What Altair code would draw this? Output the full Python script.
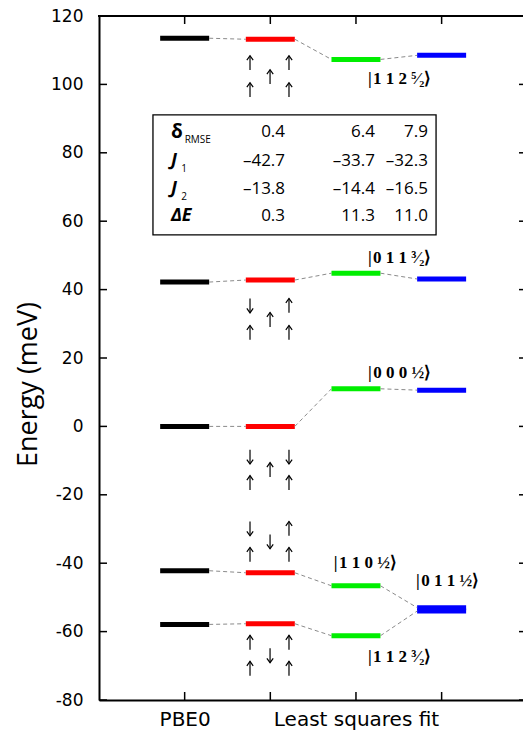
import altair as alt
import pandas as pd

# ---------------- data ----------------
categories = [1, 2, 3, 4]
x_tick_labels = ["PBE0", "", "Least squares fit", ""]
y_ticks = [-80, -60, -40, -20, 0, 20, 40, 60, 80, 100, 120]

pbe0 = [113.5, 42.2, 0.0, -42.2, -57.9]
fit_a = [113.2, 42.8, 0.0, -42.8, -57.7]
fit_b = [107.3, 44.8, 11.0, -46.6, -61.2]
fit_c = [108.5, 43.1, 10.6, -53.0, -54.0]
bar_colors = ["#000000", "#ff0000", "#00ee00", "#0000ff"]

ket_labels = ["|\u200a1 1 2 \u2075\u2044\u2082\u27e9", "|\u200a0 1 1 \u00b3\u2044\u2082\u27e9", "|\u200a0 0 0 \u00bd\u27e9",
              "|\u200a1 1 0 \u00bd\u27e9", "|\u200a0 1 1 \u00bd\u27e9", "|\u200a1 1 2 \u00b3\u2044\u2082\u27e9"]
ket_x = [3.51, 3.51, 3.51, 3.11, 4.07, 3.51]
ket_y = [101.6, 49.2, 15.7, -39.8, -45.1, -67.3]

arrow_cols = [1.763, 1.997, 2.218]
arrow_rows = [[106.3, 102.2, 98.4], [35.3, 31.2, 27.4], [-8.9, -12.7, -16.5],
              [-29.9, -33.7, -37.5], [-63.2, -67.0, -70.8]]
# spin of: left-top, left-bottom, middle, right-top, right-bottom (+1 up, -1 down)
spins = [[1, 1, 1, 1, 1], [-1, 1, 1, 1, 1], [-1, 1, 1, -1, 1],
         [-1, 1, -1, 1, 1], [1, 1, -1, 1, 1]]

table_names = ["\u03b4", "J", "J", "\u0394E"]
table_subs = ["RMSE", "1", "2", ""]
table_col1 = ["0.4", "\u201342.7", "\u201313.8", "0.3"]
table_col2 = ["6.4", "\u201333.7", "\u201314.4", "11.3"]
table_col3 = ["7.9", "\u201332.3", "\u201316.5", "11.0"]
table_row_y = [86.2, 77.6, 69.4, 61.4]
table_col_x = [2.172, 3.222, 3.841]

# ---------------- tables ----------------
HW = 0.286
series = [pbe0, fit_a, fit_b, fit_c]
bars = []
for ci, (c, vals) in enumerate(zip(categories, series)):
    for v in vals:
        bars.append({"x": c - HW, "x2": c + HW, "y": v, "col": bar_colors[ci]})
bars_df = pd.DataFrame(bars)

links = []
for i in range(5):
    links.append({"x": 1 + HW, "x2": 2 - HW, "y": pbe0[i], "y2": fit_a[i]})
    links.append({"x": 2 + HW, "x2": 3 - HW, "y": fit_a[i], "y2": fit_b[i]})
    links.append({"x": 3 + HW, "x2": 4 - HW, "y": fit_b[i], "y2": fit_c[i]})
links_df = pd.DataFrame(links)

AH = 2.1  # half arrow length in meV (~7 px)
arrows = []
for g, rows in enumerate(arrow_rows):
    s = spins[g]
    slots = [(arrow_cols[0], rows[0]), (arrow_cols[0], rows[2]), (arrow_cols[1], rows[1]),
             (arrow_cols[2], rows[0]), (arrow_cols[2], rows[2])]
    for (ax, ay), sp in zip(slots, s):
        arrows.append({"x": ax, "y": ay - AH, "y2": ay + AH,
                       "tip": ay + AH if sp > 0 else ay - AH, "dir": "up" if sp > 0 else "down"})
arrows_df = pd.DataFrame(arrows)

kets_df = pd.DataFrame({"x": ket_x, "y": ket_y, "t": ket_labels})

nums = []
for col, xv in zip([table_col1, table_col2, table_col3], table_col_x):
    for t, yv in zip(col, table_row_y):
        nums.append({"x": xv, "y": yv, "t": t})
nums_df = pd.DataFrame(nums)

xsc = alt.Scale(domain=[0, 4.95], nice=False, zero=False)
ysc = alt.Scale(domain=[-80, 120], nice=False, zero=False)

W, H = 424, 684

label_map = " : ".join([f"datum.value == {c} ? '{l}'" for c, l in zip(categories, x_tick_labels)]) + " : ''"

base_axis_y = alt.Axis(values=y_ticks, ticks=False, tickSize=0, grid=False, domainWidth=2,
                       domainColor="black", labelFont="DejaVu Sans", labelFontSize=17,
                       labelColor="black", labelPadding=16, labelExpr="'' + datum.value",
                       title="Energy (meV)", titleFont="Open Sans", titleFontSize=27,
                       titleFontWeight="normal", titleColor="black", titlePadding=8,
                       titleY=368)
base_axis_x = alt.Axis(values=categories, ticks=False, tickSize=0, grid=False, domainWidth=2,
                       domainColor="black", labelFont="DejaVu Sans", labelFontSize=20,
                       labelColor="black", labelPadding=9, labelExpr=label_map, title=None,
                       labelOverlap=False)

bars_layer = alt.Chart(bars_df).mark_rule(strokeWidth=5, strokeCap="butt").encode(
    x=alt.X("x:Q", scale=xsc, axis=base_axis_x),
    x2="x2:Q",
    y=alt.Y("y:Q", scale=ysc, axis=base_axis_y),
    color=alt.Color("col:N", scale=None),
)

links_layer = alt.Chart(links_df).mark_rule(strokeWidth=1, color="#8a8a8a", strokeDash=[4, 3]).encode(
    x=alt.X("x:Q", scale=xsc, axis=None), x2="x2:Q",
    y=alt.Y("y:Q", scale=ysc, axis=None), y2="y2:Q",
)

stems_layer = alt.Chart(arrows_df).mark_rule(strokeWidth=1.2, color="black").encode(
    x=alt.X("x:Q", scale=xsc, axis=None),
    y=alt.Y("y:Q", scale=ysc, axis=None), y2="y2:Q")
heads_up = alt.Chart(arrows_df).transform_filter("datum.dir == 'up'").mark_point(
    shape="M-1,1.4L0,0L1,1.4", filled=False, stroke="black", strokeWidth=1.2, size=40, opacity=1).encode(
    x=alt.X("x:Q", scale=xsc, axis=None), y=alt.Y("tip:Q", scale=ysc, axis=None))
heads_down = alt.Chart(arrows_df).transform_filter("datum.dir == 'down'").mark_point(
    shape="M-1,-1.4L0,0L1,-1.4", filled=False, stroke="black", strokeWidth=1.2, size=40, opacity=1).encode(
    x=alt.X("x:Q", scale=xsc, axis=None), y=alt.Y("tip:Q", scale=ysc, axis=None))

kets_layer = alt.Chart(kets_df).mark_text(font="Liberation Serif", fontSize=17, fontWeight="bold",
                                           color="black", baseline="middle", align="center").encode(
    x=alt.X("x:Q", scale=xsc, axis=None), y=alt.Y("y:Q", scale=ysc, axis=None), text="t:N")

box_df = pd.DataFrame({"x": [0.630], "x2": [3.935], "y": [91.1], "y2": [56.0]})
box_layer = alt.Chart(box_df).mark_rect(fill="white", stroke="black", strokeWidth=1.3).encode(
    x=alt.X("x:Q", scale=xsc, axis=None), x2="x2:Q",
    y=alt.Y("y:Q", scale=ysc, axis=None), y2="y2:Q")

nums_layer = alt.Chart(nums_df).mark_text(font="Open Sans", fontSize=17, color="black",
                                           baseline="middle", align="right").encode(
    x=alt.X("x:Q", scale=xsc, axis=None), y=alt.Y("y:Q", scale=ysc, axis=None), text="t:N")

names_df = pd.DataFrame({"x": [0.84] * 4, "y": table_row_y, "t": table_names,
                         "st": ["normal", "italic", "italic", "italic"]})
names_upright = alt.Chart(names_df).transform_filter("datum.st == 'normal'").mark_text(
    font="Open Sans", fontSize=19, fontWeight="bold",
    color="black", baseline="middle", align="left").encode(
    x=alt.X("x:Q", scale=xsc, axis=None), y=alt.Y("y:Q", scale=ysc, axis=None), text="t:N")
names_italic = alt.Chart(names_df).transform_filter("datum.st == 'italic'").mark_text(
    font="Open Sans", fontSize=18, fontWeight="bold", fontStyle="italic",
    color="black", baseline="middle", align="left").encode(
    x=alt.X("x:Q", scale=xsc, axis=None), y=alt.Y("y:Q", scale=ysc, axis=None), text="t:N")

subs_df = pd.DataFrame({"x": [1.0, 0.96, 0.96], "y": table_row_y[:3], "t": table_subs[:3]})
subs_layer = alt.Chart(subs_df).mark_text(font="Open Sans", fontSize=10, color="black",
                                           baseline="middle", align="left", dy=8).encode(
    x=alt.X("x:Q", scale=xsc, axis=None), y=alt.Y("y:Q", scale=ysc, axis=None), text="t:N")

# frame pieces: top border and inward ticks
tick_y_df = pd.DataFrame({"v": y_ticks})
tick_x_df = pd.DataFrame({"v": categories})
top_border = alt.Chart(pd.DataFrame({"v": [0]})).mark_rule(strokeWidth=2, color="black").encode(
    x=alt.value(-1), x2=alt.value(W), y=alt.value(0))
ticks_left = alt.Chart(tick_y_df).mark_rule(strokeWidth=1.5, color="black").encode(
    y=alt.Y("v:Q", scale=ysc, axis=None), x=alt.value(0), x2=alt.value(8))
ticks_right = alt.Chart(tick_y_df).mark_rule(strokeWidth=1.5, color="black").encode(
    y=alt.Y("v:Q", scale=ysc, axis=None), x=alt.value(W - 4), x2=alt.value(W))
ticks_bottom = alt.Chart(tick_x_df).mark_rule(strokeWidth=1.5, color="black").encode(
    x=alt.X("v:Q", scale=xsc, axis=None), y=alt.value(H), y2=alt.value(H - 8))
ticks_top = alt.Chart(tick_x_df).mark_rule(strokeWidth=1.5, color="black").encode(
    x=alt.X("v:Q", scale=xsc, axis=None), y=alt.value(0), y2=alt.value(8))

chart = alt.layer(
    bars_layer, links_layer, box_layer, nums_layer, names_upright, names_italic, subs_layer,
    stems_layer, heads_up, heads_down, kets_layer, top_border, ticks_left, ticks_right,
    ticks_bottom, ticks_top,
).resolve_axis(x="independent", y="independent").properties(
    width=W, height=H,
    padding={"left": 99, "top": 16, "right": 0, "bottom": 49},
    autosize=alt.AutoSizeParams(type="none"),
).configure_view(stroke=None).configure(background="white")

chart.save("out.html", embed_options={"renderer": "svg", "actions": False})
